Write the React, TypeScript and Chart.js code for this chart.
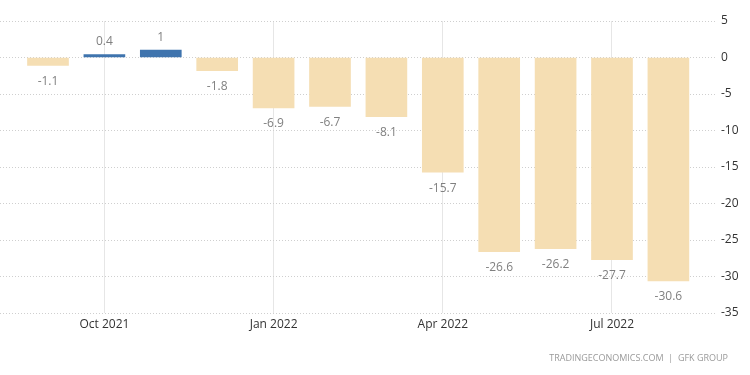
import React, { useEffect, useRef } from "react";
import { Chart, registerables } from "chart.js";

Chart.register(...registerables);

const months = ["Sep 2021", "Oct 2021", "Nov 2021", "Dec 2021", "Jan 2022", "Feb 2022", "Mar 2022", "Apr 2022", "May 2022", "Jun 2022", "Jul 2022", "Aug 2022"];
const values = [-1.1, 0.4, 1, -1.8, -6.9, -6.7, -8.1, -15.7, -26.6, -26.2, -27.7, -30.6];
const xTickIndices = [1, 4, 7, 10];
const yTicks = [5, 0, -5, -10, -15, -20, -25, -30, -35];

const POS = "#3F74AE";
const NEG = "#F5DEB3";
const FONT = "'Open Sans', 'Noto Sans', sans-serif";

const labelPlugin = {
  id: "valueLabels",
  afterDatasetsDraw(chart: any) {
    const ctx = chart.ctx;
    const meta = chart.getDatasetMeta(0);
    ctx.save();
    ctx.font = `12px ${FONT}`;
    ctx.fillStyle = "#808080";
    ctx.textAlign = "center";
    ctx.textBaseline = "middle";
    meta.data.forEach((el: any, i: number) => {
      const v = values[i];
      const y = v >= 0 ? el.y - 13 : el.y + 16;
      ctx.fillText(String(v), el.x, y);
    });
    ctx.font = `9px ${FONT}`;
    ctx.fillStyle = "#9a9a9a";
    ctx.textAlign = "right";
    ctx.fillText("TRADINGECONOMICS.COM  |  GFK GROUP", 728, 358);
    ctx.restore();
  },
};

export default function App() {
  const ref = useRef<HTMLCanvasElement>(null);
  useEffect(() => {
    if (!ref.current) return;
    const chart = new Chart(ref.current, {
      type: "bar",
      data: {
        datasets: [
          {
            data: values.map((v, i) => ({ x: i, y: v })),
            backgroundColor: values.map((v) => (v >= 0 ? POS : NEG)),
            barThickness: 41,
            borderWidth: 0,
          },
        ],
      },
      options: {
        animation: false,
        responsive: false,
        maintainAspectRatio: false,
        layout: { padding: { top: 21, left: 0, right: 0, bottom: 0 } },
        plugins: { legend: { display: false }, tooltip: { enabled: false } },
        scales: {
          x: {
            type: "linear",
            offset: false,
            min: -0.851,
            max: 11.649,
            afterBuildTicks: (axis: any) => {
              axis.ticks = xTickIndices.map((v) => ({ value: v }));
            },
            afterFit: (axis: any) => {
              axis.height = 62;
            },
            ticks: {
              autoSkip: false,
              maxRotation: 0,
              padding: 4,
              color: "#333333",
              font: { family: FONT, size: 12 },
              callback: (v: any) => months[Number(v)] ?? "",
            },
            grid: { offset: false, color: "#e6e6e6", drawTicks: false, lineWidth: 1 },
            border: { display: false },
          },
          y: {
            position: "right",
            min: -35,
            max: 5,
            afterBuildTicks: (axis: any) => {
              axis.ticks = yTicks.map((v) => ({ value: v }));
            },
            afterFit: (axis: any) => {
              axis.width = 45;
            },
            ticks: {
              padding: 4,
              color: "#333333",
              font: { family: FONT, size: 12 },
              crossAlign: "near",
            },
            grid: { color: "#cfcfcf", tickLength: 12, lineWidth: 1, tickBorderDash: [1, 2] },
            border: { display: false, dash: [1, 2] },
          },
        },
      },
      plugins: [labelPlugin],
    } as any);
    return () => chart.destroy();
  }, []);
  return (
    <div style={{ position: "fixed", left: 0, top: 0, width: 750, height: 375, background: "#fff" }}>
      <canvas ref={ref} width={750} height={375} style={{ width: 750, height: 375 }} />
    </div>
  );
}
